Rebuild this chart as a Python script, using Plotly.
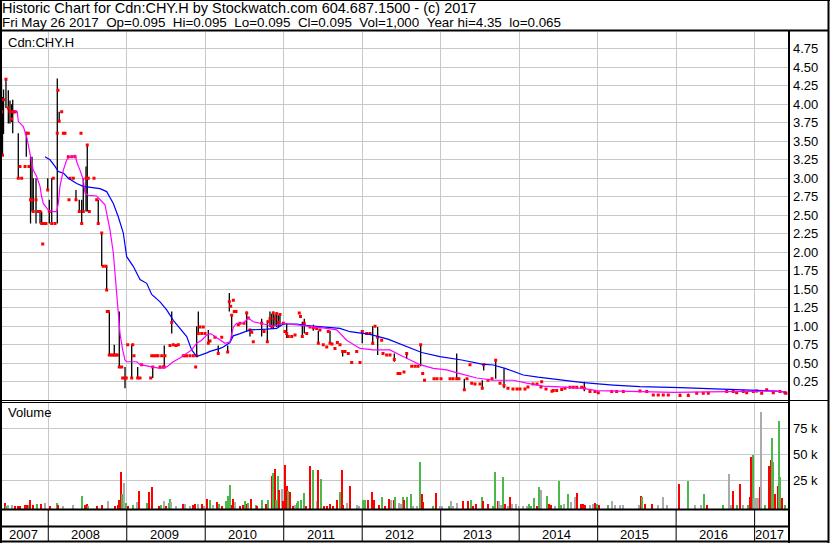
import plotly.graph_objects as go

# ------------------------------------------------------------------ data
# price bars that traded in a range (decimal year, high, low, close)
range_t = [2007.404, 2007.417, 2007.430, 2007.461, 2007.491, 2007.512, 2007.532, 2007.547, 2007.563, 2007.618,
           2007.720, 2007.774, 2007.793, 2007.809, 2007.844, 2007.895, 2007.916, 2007.993, 2008.013, 2008.044,
           2008.115, 2008.139, 2008.353, 2008.395, 2008.426, 2008.446, 2008.481, 2008.497, 2008.637, 2008.681,
           2008.744, 2008.778, 2008.841, 2008.905, 2008.978, 2009.063, 2009.139, 2009.331, 2009.478, 2009.573,
           2009.891, 2009.912, 2010.039, 2010.166, 2010.286, 2010.307, 2010.337, 2010.528, 2010.570, 2010.719,
           2010.791, 2010.825, 2010.847, 2010.867, 2010.889, 2010.910, 2010.931, 2010.952, 2011.038, 2011.237,
           2011.262, 2011.377, 2011.441, 2011.590, 2011.751, 2012.001, 2012.134, 2012.197, 2012.409, 2012.481,
           2012.567, 2012.745, 2013.204, 2013.301, 2013.530, 2013.548, 2013.701, 2013.807, 2014.830, 2016.049,
           2016.155]
range_hi = [4.35, 4.10, 4.20, 4.35, 4.19, 4.05, 4.00, 4.06, 3.92, 3.61,
            3.63, 3.29, 3.29, 3.00, 3.00, 2.55, 2.55, 3.00, 2.71, 3.00,
            4.35, 3.90, 2.84, 2.71, 2.71, 3.00, 3.16, 3.45, 2.71, 2.26,
            1.81, 1.20, 0.75, 1.20, 0.45, 0.75, 0.45, 0.45, 0.74, 1.20,
            1.00, 1.20, 0.95, 0.74, 0.74, 1.45, 1.15, 1.20, 0.95, 1.10,
            1.08, 1.20, 1.17, 1.20, 1.16, 1.19, 1.15, 1.17, 1.04, 1.06,
            1.10, 1.02, 0.94, 0.94, 0.66, 0.95, 1.00, 0.99, 0.63, 0.36,
            0.63, 0.75, 0.63, 0.29, 0.27, 0.48, 0.54, 0.43, 0.25, 0.09,
            0.09]
range_lo = [3.45, 3.30, 3.60, 3.95, 3.74, 3.74, 3.76, 3.61, 3.88, 3.00,
            3.29, 2.39, 2.55, 2.55, 2.39, 2.39, 2.39, 2.84, 2.39, 2.39,
            2.39, 3.76, 2.71, 2.55, 2.39, 2.55, 2.55, 2.55, 2.39, 1.81,
            1.49, 0.61, 0.61, 0.45, 0.16, 0.30, 0.30, 0.30, 0.45, 0.90,
            0.60, 0.90, 0.77, 0.61, 0.65, 1.20, 0.84, 0.93, 0.86, 0.86,
            0.79, 0.99, 0.97, 0.97, 1.00, 0.99, 0.98, 1.00, 0.84, 0.86,
            0.90, 0.94, 0.77, 0.77, 0.59, 0.77, 0.75, 0.61, 0.52, 0.34,
            0.56, 0.46, 0.29, 0.14, 0.16, 0.40, 0.29, 0.16, 0.12, 0.05,
            0.05]
range_cl = [3.90, 3.31, 4.06, 4.34, 3.95, 3.90, 3.80, 3.90, 3.90, 3.00,
            3.61, 2.71, 2.71, 2.55, 2.71, 2.55, 2.39, 2.84, 2.55, 2.39,
            3.61, 3.77, 2.71, 2.55, 2.39, 2.55, 3.00, 3.45, 2.39, 2.26,
            1.49, 0.61, 0.61, 0.45, 0.30, 0.30, 0.30, 0.45, 0.45, 1.05,
            0.60, 0.90, 0.77, 0.63, 0.65, 1.33, 1.15, 1.18, 0.95, 1.04,
            0.79, 1.10, 1.00, 1.18, 1.10, 1.17, 1.05, 1.16, 0.90, 0.86,
            1.04, 0.98, 0.77, 0.77, 0.66, 0.93, 0.77, 0.85, 0.55, 0.36,
            0.63, 0.75, 0.29, 0.14, 0.16, 0.48, 0.54, 0.20, 0.16, 0.065,
            0.065]

# single-price trading days (decimal year, price)
dot_t = [2007.580, 2007.640, 2007.661, 2007.704, 2007.746, 2007.754, 2007.873, 2007.929, 2007.946, 2007.971,
         2008.064, 2008.086, 2008.124, 2008.171, 2008.192, 2008.213, 2008.255, 2008.264, 2008.277, 2008.299,
         2008.319, 2008.341, 2008.417, 2008.510, 2008.523, 2008.583, 2008.617, 2008.701, 2008.736, 2008.752,
         2008.765, 2008.799, 2008.825, 2008.863, 2008.882, 2008.936, 2008.948, 2008.994, 2009.012, 2009.076,
         2009.092, 2009.169, 2009.190, 2009.305, 2009.318, 2009.347, 2009.373, 2009.398, 2009.424, 2009.445,
         2009.466, 2009.487, 2009.551, 2009.593, 2009.627, 2009.657, 2009.720, 2009.742, 2009.764, 2009.806,
         2009.848, 2009.878, 2009.933, 2009.955, 2009.975, 2009.997, 2010.061, 2010.124, 2010.210, 2010.324,
         2010.358, 2010.370, 2010.392, 2010.421, 2010.443, 2010.494, 2010.549, 2010.592, 2010.612, 2010.749,
         2010.803, 2010.995, 2011.016, 2011.058, 2011.102, 2011.144, 2011.198, 2011.214, 2011.293, 2011.335,
         2011.420, 2011.462, 2011.504, 2011.548, 2011.568, 2011.615, 2011.653, 2011.683, 2011.717, 2011.781,
         2011.823, 2011.866, 2011.930, 2011.972, 2012.057, 2012.099, 2012.163, 2012.248, 2012.265, 2012.312,
         2012.354, 2012.456, 2012.532, 2012.631, 2012.673, 2012.711, 2012.771, 2012.794, 2012.915, 2012.953,
         2013.004, 2013.119, 2013.157, 2013.233, 2013.335, 2013.373, 2013.395, 2013.437, 2013.501, 2013.603,
         2013.654, 2013.756, 2013.857, 2013.921, 2013.972, 2014.010, 2014.074, 2014.112, 2014.176, 2014.227,
         2014.278, 2014.287, 2014.342, 2014.418, 2014.435, 2014.478, 2014.542, 2014.584, 2014.647, 2014.689,
         2014.733, 2014.796, 2014.902, 2014.966, 2015.008, 2015.179, 2015.242, 2015.327, 2015.539, 2015.625,
         2015.709, 2015.772, 2015.836, 2015.900, 2016.262, 2016.346, 2016.410, 2016.644, 2016.728, 2016.771,
         2016.855, 2016.899, 2016.983, 2017.026, 2017.090, 2017.154, 2017.238, 2017.323, 2017.387, 2017.399]
dot_v = [3.90, 3.16, 3.00, 3.16, 3.61, 3.16, 2.55, 2.11, 2.39, 2.39,
         3.00, 2.39, 4.19, 3.90, 3.61, 3.61, 3.29, 2.71, 3.00, 3.29,
         3.00, 3.29, 3.61, 3.00, 2.55, 3.00, 2.71, 1.81, 1.81, 1.20,
         1.20, 0.61, 0.61, 0.61, 0.61, 0.45, 0.30, 0.30, 0.75, 0.75,
         0.60, 0.30, 0.48, 0.30, 0.60, 0.60, 0.60, 0.60, 0.45, 0.60,
         0.45, 0.60, 0.74, 0.75, 0.74, 0.75, 0.60, 0.60, 0.60, 0.60,
         0.60, 0.45, 0.99, 0.90, 0.99, 0.90, 0.80, 0.85, 0.85, 1.27,
         1.35, 1.20, 1.20, 1.02, 1.04, 1.04, 1.11, 0.92, 0.79, 0.93,
         1.06, 1.04, 0.93, 0.86, 0.86, 0.88, 1.18, 1.13, 0.90, 0.99,
         0.97, 0.95, 0.75, 0.72, 0.93, 0.76, 0.70, 0.78, 0.75, 0.66,
         0.63, 0.51, 0.66, 0.51, 0.90, 0.90, 1.00, 0.81, 0.63, 0.61,
         0.61, 0.36, 0.38, 0.46, 0.46, 0.46, 0.36, 0.27, 0.29, 0.29,
         0.29, 0.29, 0.29, 0.29, 0.29, 0.48, 0.23, 0.22, 0.22, 0.27,
         0.29, 0.23, 0.16, 0.15, 0.15, 0.15, 0.15, 0.18, 0.22, 0.22,
         0.18, 0.25, 0.15, 0.12, 0.13, 0.13, 0.146, 0.16, 0.176, 0.176,
         0.176, 0.176, 0.116, 0.116, 0.10, 0.116, 0.116, 0.116, 0.125, 0.116,
         0.07, 0.07, 0.07, 0.07, 0.093, 0.093, 0.093, 0.116, 0.116, 0.10,
         0.116, 0.10, 0.116, 0.125, 0.093, 0.14, 0.10, 0.116, 0.10, 0.095]

# short moving average (magenta)
ma_short_t = [2007.563, 2007.605, 2007.618, 2007.682, 2007.725, 2007.758, 2007.789, 2007.809, 2007.853, 2007.895,
              2007.916, 2007.937, 2008.000, 2008.064, 2008.107, 2008.128, 2008.149, 2008.192, 2008.235, 2008.277,
              2008.341, 2008.370, 2008.404, 2008.446, 2008.468, 2008.510, 2008.617, 2008.659, 2008.723, 2008.744,
              2008.787, 2008.829, 2008.872, 2008.892, 2008.914, 2008.948, 2008.978, 2008.999, 2009.127, 2009.169,
              2009.296, 2009.424, 2009.509, 2009.593, 2009.678, 2009.764, 2009.827, 2009.891, 2009.955, 2010.019,
              2010.070, 2010.124, 2010.188, 2010.252, 2010.315, 2010.358, 2010.401, 2010.485, 2010.549, 2010.612,
              2010.698, 2010.783, 2010.867, 2010.995, 2011.122, 2011.377, 2011.548, 2011.675, 2011.802, 2011.972,
              2012.141, 2012.354, 2012.481, 2012.609, 2012.736, 2012.906, 2013.076, 2013.246, 2013.459, 2013.670,
              2013.925, 2014.096, 2014.307, 2014.520, 2014.817, 2014.988, 2015.667, 2015.964, 2016.644, 2017.238,
              2017.399]
ma_short_v = [3.92, 3.90, 3.77, 3.70, 3.56, 3.38, 3.25, 3.11, 3.02, 2.89,
              2.75, 2.66, 2.57, 2.55, 2.55, 2.66, 2.89, 3.11, 3.25, 3.29,
              3.31, 3.20, 3.11, 2.98, 2.80, 2.77, 2.76, 2.71, 2.64, 2.53,
              2.30, 1.99, 1.45, 1.17, 0.90, 0.68, 0.54, 0.52, 0.52, 0.48,
              0.45, 0.43, 0.45, 0.52, 0.57, 0.63, 0.68, 0.77, 0.81, 0.88,
              0.90, 0.86, 0.81, 0.77, 0.79, 0.99, 1.04, 1.04, 1.11, 1.06,
              1.04, 1.02, 1.00, 1.04, 1.02, 0.99, 0.97, 0.95, 0.81, 0.70,
              0.68, 0.68, 0.61, 0.54, 0.48, 0.43, 0.41, 0.36, 0.30, 0.27,
              0.27, 0.23, 0.19, 0.18, 0.16, 0.13, 0.115, 0.106, 0.115, 0.124,
              0.111]

# long moving average (blue)
ma_long_t = [2007.958, 2008.022, 2008.086, 2008.128, 2008.192, 2008.255, 2008.362, 2008.446, 2008.659, 2008.744,
             2008.829, 2008.892, 2008.956, 2008.999, 2009.083, 2009.169, 2009.254, 2009.318, 2009.424, 2009.509,
             2009.593, 2009.678, 2009.764, 2009.827, 2009.891, 2010.019, 2010.061, 2010.188, 2010.230, 2010.315,
             2010.358, 2010.443, 2010.570, 2010.783, 2010.910, 2010.995, 2011.165, 2011.377, 2011.590, 2011.717,
             2011.844, 2012.099, 2012.328, 2012.545, 2012.758, 2012.991, 2013.268, 2013.526, 2013.670, 2013.819,
             2013.985, 2014.052, 2014.240, 2014.435, 2014.520, 2014.817, 2015.199, 2015.539, 2016.049, 2016.644,
             2016.983, 2017.281, 2017.399]
ma_long_v = [3.29, 3.25, 3.16, 3.09, 3.07, 3.00, 2.93, 2.89, 2.86, 2.82,
             2.66, 2.48, 2.26, 1.94, 1.81, 1.63, 1.58, 1.43, 1.33, 1.22,
             1.08, 0.97, 0.86, 0.68, 0.59, 0.64, 0.66, 0.70, 0.72, 0.78,
             0.87, 0.90, 0.95, 0.96, 0.97, 1.03, 1.03, 1.00, 0.985, 0.97,
             0.926, 0.89, 0.825, 0.735, 0.645, 0.588, 0.543, 0.487, 0.476, 0.431,
             0.36, 0.341, 0.312, 0.285, 0.273, 0.237, 0.205, 0.183, 0.169, 0.147,
             0.129, 0.124, 0.107]

# daily volume (decimal year, thousands of shares, direction u=up d=down f=flat)
vol_t = [2007.394, 2007.445, 2007.461, 2007.491, 2007.534, 2007.576, 2007.618, 2007.640, 2007.704, 2007.729,
         2007.758, 2007.767, 2007.806, 2007.853, 2007.904, 2007.958, 2008.022, 2008.107, 2008.124, 2008.188,
         2008.311, 2008.426, 2008.468, 2008.497, 2008.510, 2008.621, 2008.681, 2008.765, 2008.850, 2008.892,
         2008.905, 2008.923, 2008.939, 2008.965, 2008.990, 2009.020, 2009.076, 2009.127, 2009.152, 2009.254,
         2009.280, 2009.322, 2009.415, 2009.432, 2009.475, 2009.500, 2009.534, 2009.551, 2009.564, 2009.627,
         2009.713, 2009.746, 2009.806, 2009.848, 2009.870, 2009.904, 2009.955, 2009.988, 2010.026, 2010.061,
         2010.103, 2010.146, 2010.175, 2010.214, 2010.265, 2010.290, 2010.315, 2010.337, 2010.358, 2010.379,
         2010.443, 2010.477, 2010.507, 2010.528, 2010.549, 2010.579, 2010.647, 2010.663, 2010.719, 2010.774,
         2010.796, 2010.847, 2010.860, 2010.885, 2010.902, 2010.923, 2010.936, 2010.974, 2010.987, 2011.012,
         2011.038, 2011.058, 2011.080, 2011.114, 2011.147, 2011.165, 2011.182, 2011.220, 2011.254, 2011.284,
         2011.335, 2011.369, 2011.420, 2011.441, 2011.475, 2011.513, 2011.551, 2011.590, 2011.628, 2011.683,
         2011.717, 2011.742, 2011.759, 2011.802, 2011.844, 2011.934, 2011.963, 2012.006, 2012.039, 2012.070,
         2012.125, 2012.150, 2012.218, 2012.252, 2012.290, 2012.345, 2012.367, 2012.405, 2012.422, 2012.465,
         2012.490, 2012.524, 2012.532, 2012.567, 2012.618, 2012.622, 2012.651, 2012.694, 2012.736, 2012.758,
         2012.778, 2012.898, 2012.940, 2012.991, 2013.017, 2013.106, 2013.127, 2013.161, 2013.212, 2013.288,
         2013.344, 2013.382, 2013.408, 2013.450, 2013.522, 2013.539, 2013.603, 2013.670, 2013.692, 2013.734,
         2013.747, 2013.768, 2013.798, 2013.823, 2013.861, 2013.883, 2013.905, 2013.959, 2013.994, 2014.052,
         2014.096, 2014.121, 2014.147, 2014.189, 2014.223, 2014.256, 2014.274, 2014.350, 2014.380, 2014.405,
         2014.456, 2014.503, 2014.529, 2014.571, 2014.618, 2014.656, 2014.707, 2014.733, 2014.784, 2014.817,
         2014.842, 2014.902, 2014.937, 2014.966, 2014.991, 2015.017, 2015.135, 2015.179, 2015.221, 2015.284,
         2015.319, 2015.523, 2015.548, 2015.565, 2015.603, 2015.688, 2015.765, 2015.828, 2015.887, 2016.032,
         2016.151, 2016.236, 2016.316, 2016.355, 2016.389, 2016.601, 2016.677, 2016.695, 2016.720, 2016.771,
         2016.813, 2016.848, 2016.919, 2016.941, 2016.954, 2016.975, 2016.996, 2017.017, 2017.039, 2017.061,
         2017.081, 2017.132, 2017.187, 2017.205, 2017.217, 2017.238, 2017.259, 2017.294, 2017.310, 2017.327,
         2017.345, 2017.387]
vol_k = [2.2, 3.5, 0.3, 0.8, 1.0, 0.4, 0.5, 0.6, 1.0, 1.5,
         1.5, 6.0, 1.0, 2.2, 2.2, 3.5, 0.4, 3.5, 1.5, 0.5,
         1.0, 9.9, 1.0, 2.0, 0.5, 0.4, 0.8, 5.1, 0.4, 1.5,
         6.0, 33.3, 11.8, 22.7, 3.5, 0.5, 1.0, 4.0, 15.0, 3.5,
         14.0, 18.9, 0.5, 1.0, 5.5, 0.5, 2.8, 7.4, 4.5, 0.4,
         2.2, 2.2, 0.5, 0.8, 2.2, 2.2, 2.2, 0.4, 7.4, 6.4,
         1.0, 4.2, 2.2, 0.4, 5.5, 9.9, 20.5, 1.5, 7.4, 4.0,
         0.5, 1.5, 5.5, 2.2, 3.5, 7.4, 1.5, 0.5, 6.4, 2.2,
         6.4, 29.1, 32.4, 35.6, 6.4, 29.1, 15.6, 16.3, 5.0, 39.7,
         19.6, 15.0, 14.0, 0.5, 1.5, 3.5, 5.0, 6.4, 13.2, 0.5,
         38.8, 35.0, 5.0, 35.0, 26.0, 0.5, 0.5, 2.2, 0.5, 6.0,
         14.0, 35.0, 1.5, 3.5, 19.6, 1.0, 0.5, 6.0, 6.0, 6.0,
         14.0, 6.4, 1.0, 9.4, 0.5, 7.4, 6.0, 6.0, 9.0, 3.5,
         2.2, 8.5, 5.9, 8.5, 1.0, 11.8, 0.5, 0.5, 42.6, 11.8,
         4.5, 0.5, 12.5, 0.5, 0.5, 0.5, 4.8, 0.5, 3.2, 4.8,
         4.8, 6.0, 0.5, 2.6, 8.5, 4.8, 2.6, 0.5, 33.0, 4.8,
         4.8, 1.0, 27.9, 2.6, 0.5, 8.5, 2.6, 2.2, 0.5, 0.5,
         0.5, 2.6, 0.5, 8.0, 0.5, 18.3, 15.7, 10.0, 2.6, 1.5,
         0.5, 24.0, 1.0, 2.2, 11.8, 4.0, 8.5, 12.5, 1.8, 2.6,
         1.5, 1.5, 2.2, 3.0, 2.6, 1.5, 1.5, 4.8, 1.5, 1.5,
         1.0, 1.0, 10.0, 8.5, 2.6, 2.2, 1.0, 8.5, 1.5, 21.4,
         24.0, 1.5, 1.5, 11.8, 1.0, 1.5, 31.0, 1.5, 14.6, 1.0,
         21.4, 1.0, 1.5, 8.5, 47.0, 49.0, 8.0, 8.0, 8.0, 18.3,
         90.7, 1.0, 38.8, 44.5, 65.7, 42.6, 11.8, 20.0, 81.7, 27.9,
         8.0, 1.0]
vol_dir = ['d', 'd', 'u', 'f', 'f', 'd', 'd', 'd', 'd', 'd',
           'u', 'd', 'd', 'u', 'd', 'f', 'd', 'u', 'd', 'f',
           'f', 'u', 'd', 'd', 'u', 'd', 'd', 'f', 'd', 'd',
           'd', 'd', 'u', 'f', 'u', 'd', 'u', 'f', 'd', 'u',
           'd', 'd', 'd', 'u', 'f', 'd', 'u', 'u', 'f', 'f',
           'd', 'f', 'f', 'd', 'd', 'f', 'd', 'f', 'd', 'u',
           'f', 'd', 'u', 'd', 'u', 'u', 'u', 'd', 'd', 'f',
           'd', 'd', 'u', 'd', 'u', 'd', 'u', 'd', 'u', 'd',
           'u', 'd', 'u', 'd', 'u', 'u', 'd', 'f', 'd', 'd',
           'd', 'u', 'd', 'd', 'f', 'u', 'u', 'u', 'u', 'd',
           'd', 'u', 'f', 'd', 'u', 'd', 'd', 'd', 'd', 'd',
           'u', 'd', 'd', 'f', 'd', 'f', 'f', 'u', 'u', 'd',
           'd', 'd', 'd', 'u', 'd', 'd', 'f', 'd', 'u', 'f',
           'f', 'u', 'd', 'u', 'd', 'u', 'f', 'f', 'u', 'd',
           'd', 'u', 'd', 'f', 'f', 'u', 'f', 'f', 'f', 'd',
           'd', 'u', 'd', 'd', 'u', 'd', 'd', 'u', 'u', 'd',
           'f', 'f', 'u', 'd', 'f', 'd', 'f', 'f', 'f', 'f',
           'f', 'u', 'u', 'u', 'd', 'u', 'f', 'u', 'd', 'd',
           'f', 'u', 'u', 'f', 'u', 'f', 'f', 'd', 'd', 'd',
           'd', 'f', 'f', 'd', 'u', 'd', 'u', 'f', 'f', 'f',
           'f', 'f', 'd', 'u', 'd', 'd', 'f', 'f', 'f', 'd',
           'u', 'f', 'f', 'u', 'd', 'u', 'f', 'f', 'd', 'u',
           'd', 'f', 'u', 'd', 'd', 'u', 'f', 'f', 'f', 'd',
           'f', 'u', 'd', 'd', 'u', 'u', 'd', 'd', 'u', 'u',
           'd', 'u']

years = [2007, 2008, 2009, 2010, 2011, 2012, 2013, 2014, 2015, 2016, 2017]
price_ticks = [0.25, 0.50, 0.75, 1.00, 1.25, 1.50, 1.75, 2.00, 2.25, 2.50,
               2.75, 3.00, 3.25, 3.50, 3.75, 4.00, 4.25, 4.50, 4.75]
vol_ticks = [25, 50, 75]

title_line1 = "Historic Chart for Cdn:CHY.H by Stockwatch.com 604.687.1500 - (c) 2017"
title_line2 = ("Fri May 26 2017  Op=0.095  Hi=0.095  Lo=0.095  Cl=0.095  "
               "Vol=1,000  Year hi=4.35  lo=0.065")
symbol = "Cdn:CHY.H"

# ------------------------------------------------------------------ layout helpers
W, H = 830, 543
FONT = "Liberation Sans, Arial, sans-serif"
GRID = "#c8c8c8"
X_RANGE = [2007.4105, 2017.438]


def px(x):
    return x / W


def py(y):
    return 1 - y / H


dir_color = {'u': '#4cb84c', 'd': '#ff0000', 'f': '#aaaaaa'}
VOL_BASE = -2.6

fig = go.Figure()

# high-low bars
seg_x, seg_y = [], []
for t, hi, lo in zip(range_t, range_hi, range_lo):
    seg_x += [t, t, None]
    seg_y += [lo, hi, None]
fig.add_trace(go.Scatter(x=seg_x, y=seg_y, mode='lines',
                         line=dict(color='black', width=1.3),
                         hoverinfo='skip', showlegend=False))

# closes / single trades
fig.add_trace(go.Scatter(x=range_t + dot_t, y=range_cl + dot_v, mode='markers',
                         marker=dict(symbol='square', size=3, color='#ff0000',
                                     line=dict(width=0)),
                         showlegend=False))

# moving averages
fig.add_trace(go.Scatter(x=ma_long_t, y=ma_long_v, mode='lines',
                         line=dict(color='#0000ff', width=1.2), showlegend=False))
fig.add_trace(go.Scatter(x=ma_short_t, y=ma_short_v, mode='lines',
                         line=dict(color='#ff00ff', width=1.2), showlegend=False))

# volume
fig.add_trace(go.Bar(x=vol_t, y=[v - VOL_BASE for v in vol_k], base=VOL_BASE,
                     width=0.022, marker=dict(color=[dir_color[d] for d in vol_dir],
                                              line=dict(width=0)),
                     xaxis='x2', yaxis='y2', showlegend=False))

xdom = [px(2), px(789)]
common_x = dict(domain=xdom, range=X_RANGE, showgrid=True, gridcolor=GRID, gridwidth=1,
                tickvals=years[1:], showticklabels=False, ticks='', zeroline=False,
                showline=False, fixedrange=True)

fig.update_layout(
    width=W, height=H,
    margin=dict(l=0, r=0, t=0, b=0),
    paper_bgcolor='white', plot_bgcolor='white',
    font=dict(family=FONT, size=13, color='black'),
    xaxis=dict(**common_x, anchor='y'),
    yaxis=dict(domain=[py(400.2), py(31.5)], range=[0, 4.984], tickvals=price_ticks,
               showgrid=True, gridcolor=GRID, gridwidth=1, showticklabels=False,
               ticks='', zeroline=False, showline=False),
    xaxis2=dict(**common_x, anchor='y2'),
    yaxis2=dict(domain=[py(509), py(402.5)], range=[VOL_BASE, 99.8], tickvals=vol_ticks,
                showgrid=True, gridcolor=GRID, gridwidth=1, showticklabels=False,
                ticks='', zeroline=False, showline=False),
    bargap=0,
)

shapes = []


def hline(y, x0, x1, w=1):
    shapes.append(dict(type='line', xref='paper', yref='paper', x0=px(x0), x1=px(x1),
                       y0=py(y), y1=py(y), line=dict(color='black', width=w)))


def vline(x, y0, y1, w=1):
    shapes.append(dict(type='line', xref='paper', yref='paper', x0=px(x), x1=px(x),
                       y0=py(y0), y1=py(y1), line=dict(color='black', width=w)))


hline(0.5, 0, 830, 1)
hline(30.5, 0, 829, 2)
hline(400.5, 0, 829, 1)
hline(402.5, 0, 789, 1)
hline(509.5, 0, 789, 2)
hline(526.5, 0, 789, 2)
hline(541.5, 0, 829, 2)
vline(1, 0, 543, 2)
vline(789, 30, 543, 2)
vline(828.5, 0, 543, 2)

# year dividers in the two axis rows
for yr in years[1:]:
    shapes.append(dict(type='line', xref='x', yref='paper', x0=yr, x1=yr,
                       y0=py(541), y1=py(509), line=dict(color='black', width=1)))

annotations = []


def text(x, y, s, xref='paper', yref='paper', xanchor='left', size=13):
    annotations.append(dict(x=x, y=y, xref=xref, yref=yref, text=s, showarrow=False,
                            xanchor=xanchor, yanchor='middle', borderpad=0,
                            font=dict(family=FONT, size=size, color='black')))


nb = lambda s: s.replace('  ', '\u00a0\u00a0')
text(px(1), py(8), title_line1, size=14.5)
text(px(1), py(22), nb(title_line2), size=13.4)
text(px(7), py(42), symbol)
text(px(7), py(413), "Volume")

for v in price_ticks:
    text(px(792), v, f"{v:.2f}", yref='y')
for v in vol_ticks:
    text(px(792), v, f"{v} k", yref='y2')

# year labels centred in their visible span
for yr in years:
    a = max(yr, X_RANGE[0])
    b = min(yr + 1, X_RANGE[1])
    text((a + b) / 2 - 0.025, py(534.5), str(yr), xref='x', xanchor='center')

fig.update_layout(shapes=shapes, annotations=annotations)
fig.write_html("out.html", config={'displayModeBar': False, 'staticPlot': True},
               post_script="document.body.style.margin='0';document.body.style.padding='0';")
